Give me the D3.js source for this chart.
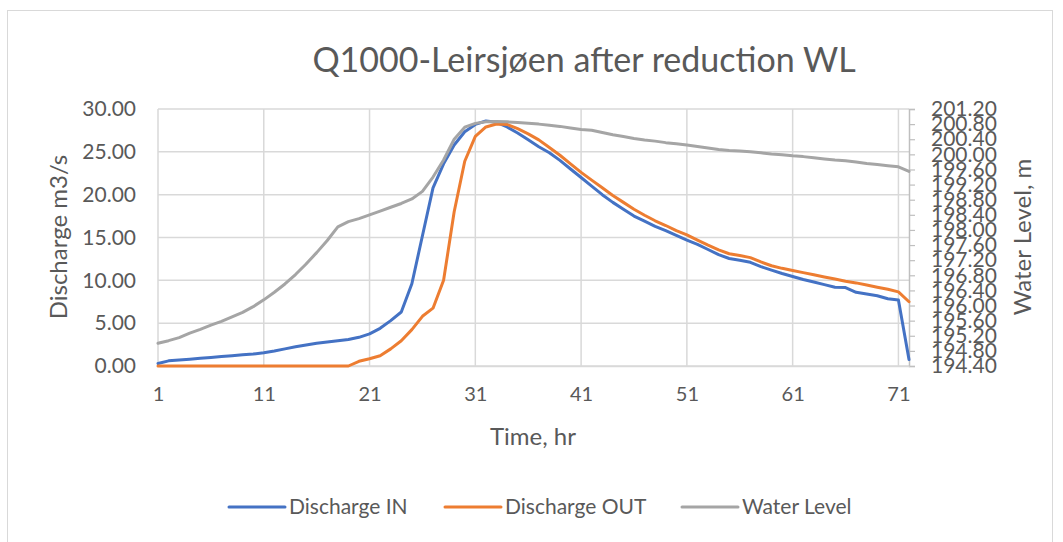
<!DOCTYPE html>
<html>
<head>
<meta charset="utf-8">
<script src="https://cdn.jsdelivr.net/npm/d3@7"></script>
<style>
body { margin: 0; background: #fff; }
svg text { font-family: Lato, "Open Sans", sans-serif; fill: #595959; }
</style>
</head>
<body>
<div id="chart"></div>
<script>
// hours 1..72
var hours = d3.range(1, 73)

var dischargeIn = [0.30, 0.60, 0.70, 0.80, 0.90, 1.00, 1.10, 1.20, 1.30, 1.40,
    1.55, 1.75, 2.00, 2.25, 2.45, 2.65, 2.80, 2.95, 3.10, 3.35,
    3.75, 4.40, 5.30, 6.30, 9.60, 15.20, 20.80, 23.60, 25.80, 27.35,
    28.20, 28.60, 28.45, 27.90, 27.20, 26.40, 25.60, 24.90, 24.00, 23.00,
    22.00, 21.00, 20.00, 19.10, 18.30, 17.50, 16.90, 16.30, 15.80, 15.25,
    14.70, 14.20, 13.60, 13.00, 12.55, 12.35, 12.10, 11.60, 11.20, 10.80,
    10.45, 10.10, 9.80, 9.50, 9.20, 9.15, 8.60, 8.40, 8.20, 7.85,
    7.70, 0.75]

var dischargeOut = [0, 0, 0, 0, 0, 0, 0, 0, 0, 0,
    0, 0, 0, 0, 0, 0, 0, 0, 0, 0.55,
    0.85, 1.20, 2.00, 2.95, 4.25, 5.80, 6.75, 10.00, 18.00, 23.90,
    26.80, 27.90, 28.25, 28.20, 27.70, 27.10, 26.40, 25.50, 24.60, 23.60,
    22.60, 21.70, 20.80, 19.90, 19.10, 18.30, 17.60, 16.95, 16.40, 15.80,
    15.30, 14.70, 14.10, 13.55, 13.10, 12.90, 12.65, 12.15, 11.70, 11.40,
    11.15, 10.90, 10.65, 10.40, 10.15, 9.90, 9.70, 9.45, 9.20, 8.95,
    8.65, 7.50]

var waterLevel = [195.00, 195.07, 195.15, 195.27, 195.37, 195.48, 195.58, 195.70, 195.82, 195.97,
    196.15, 196.35, 196.57, 196.82, 197.10, 197.40, 197.72, 198.08, 198.22, 198.30,
    198.40, 198.50, 198.60, 198.70, 198.82, 199.02, 199.40, 199.85, 200.40, 200.72,
    200.82, 200.86, 200.87, 200.86, 200.84, 200.82, 200.80, 200.77, 200.74, 200.70,
    200.66, 200.64, 200.58, 200.52, 200.47, 200.42, 200.38, 200.35, 200.31, 200.28,
    200.25, 200.21, 200.17, 200.13, 200.10, 200.09, 200.07, 200.04, 200.01, 199.99,
    199.96, 199.94, 199.91, 199.88, 199.85, 199.83, 199.80, 199.76, 199.73, 199.70,
    199.67, 199.55]

var xTicks = [1, 11, 21, 31, 41, 51, 61, 71]
var leftTicks = [0, 5, 10, 15, 20, 25, 30]
var rightTicks = d3.range(0, 18).map(function(i) { return +(194.4 + i * 0.4).toFixed(2) })

var series = [
    { name: "Discharge IN", values: dischargeIn, color: "#4472C4", axis: "left" },
    { name: "Discharge OUT", values: dischargeOut, color: "#ED7D31", axis: "left" },
    { name: "Water Level", values: waterLevel, color: "#A5A5A5", axis: "right" }
]

var W = 1063, H = 542
var plot = { left: 158, right: 909, top: 109, bottom: 366 }

var svg = d3.select("#chart").append("svg")
    .attr("width", W)
    .attr("height", H)

// cadre du graphique
svg.append("rect")
    .attr("x", 7.5).attr("y", 10.5)
    .attr("width", 1045).attr("height", 545)
    .attr("fill", "none")
    .attr("stroke", "#d9d9d9")
    .attr("stroke-width", 1)

var x = d3.scaleLinear().domain([1, 72]).range([plot.left, plot.right])
var yL = d3.scaleLinear().domain([0, 30]).range([plot.bottom, plot.top])
var yR = d3.scaleLinear().domain([194.4, 201.2]).range([plot.bottom, plot.top])

// grille
var grid = svg.append("g").attr("class", "grid")
grid.selectAll("line.h")
    .data(leftTicks)
    .enter().append("line")
    .attr("class", "h")
    .attr("x1", plot.left).attr("x2", plot.right)
    .attr("y1", function(d) { return yL(d) }).attr("y2", function(d) { return yL(d) })
    .attr("stroke", "#d9d9d9").attr("stroke-width", 1.5)
grid.selectAll("line.v")
    .data(xTicks)
    .enter().append("line")
    .attr("class", "v")
    .attr("x1", function(d) { return x(d) }).attr("x2", function(d) { return x(d) })
    .attr("y1", plot.top).attr("y2", plot.bottom)
    .attr("stroke", "#d9d9d9").attr("stroke-width", 1.5)

// axe de gauche
var leftAxis = svg.append("g")
    .attr("transform", "translate(" + (plot.left - 22) + ",0)")
    .call(d3.axisLeft(yL).tickValues(leftTicks).tickFormat(d3.format(".2f")).tickSize(0))
leftAxis.select(".domain").remove()
leftAxis.selectAll("text")
    .attr("x", 0)
    .style("font-size", "21px")
    .attr("fill", "#595959")

// axe de droite
var rightAxis = svg.append("g")
    .attr("transform", "translate(" + plot.right + ",0)")
    .call(d3.axisRight(yR).tickValues(rightTicks).tickFormat(d3.format(".2f")).tickSize(6).tickPadding(16))
rightAxis.select(".domain").attr("stroke", "#bfbfbf").attr("stroke-width", 1.5)
rightAxis.selectAll(".tick line").attr("stroke", "#bfbfbf").attr("stroke-width", 1.2)
rightAxis.selectAll("text")
    .style("font-size", "21px")
    .attr("fill", "#595959")

// axe des x
var bottomAxis = svg.append("g")
    .attr("transform", "translate(0," + plot.bottom + ")")
    .call(d3.axisBottom(x).tickValues(xTicks).tickFormat(d3.format("d")).tickSize(0).tickPadding(21))
bottomAxis.select(".domain").attr("stroke", "#d9d9d9").attr("stroke-width", 1.5)
bottomAxis.selectAll("text")
    .style("font-size", "20px")
    .attr("fill", "#595959")

// les courbes
var lines = svg.append("g").attr("class", "lines")
series.forEach(function(s) {
    var yy = s.axis == "left" ? yL : yR
    var line = d3.line()
        .x(function(d, i) { return x(hours[i]) })
        .y(function(d) { return yy(d) })
    lines.append("path")
        .datum(s.values)
        .attr("d", line)
        .attr("fill", "none")
        .attr("stroke", s.color)
        .attr("stroke-width", 3)
        .attr("stroke-linejoin", "round")
        .attr("stroke-linecap", "round")
})

// titres
svg.append("text")
    .attr("x", 584).attr("y", 72)
    .attr("text-anchor", "middle")
    .style("font-size", "34px")
    .text("Q1000-Leirsjøen after reduction WL")

svg.append("text")
    .attr("x", 533).attr("y", 445)
    .attr("text-anchor", "middle")
    .style("font-size", "24px")
    .text("Time, hr")

svg.append("text")
    .attr("transform", "translate(67,237) rotate(-90)")
    .attr("text-anchor", "middle")
    .style("font-size", "24px")
    .text("Discharge m3/s")

svg.append("text")
    .attr("transform", "translate(1031,237) rotate(-90)")
    .attr("text-anchor", "middle")
    .style("font-size", "24px")
    .text("Water Level, m")

// légende
var legendX = [229, 445, 682]
var legend = svg.append("g").attr("class", "legende")
series.forEach(function(s, i) {
    var g = legend.append("g").attr("transform", "translate(" + legendX[i] + ",507)")
    g.append("line")
        .attr("x1", 0).attr("x2", 56)
        .attr("stroke", s.color).attr("stroke-width", 3)
        .attr("stroke-linecap", "round")
    g.append("text")
        .attr("x", 60).attr("y", 0)
        .attr("dy", "0.35em")
        .style("font-size", "21px")
        .text(s.name)
})
</script>
</body>
</html>
